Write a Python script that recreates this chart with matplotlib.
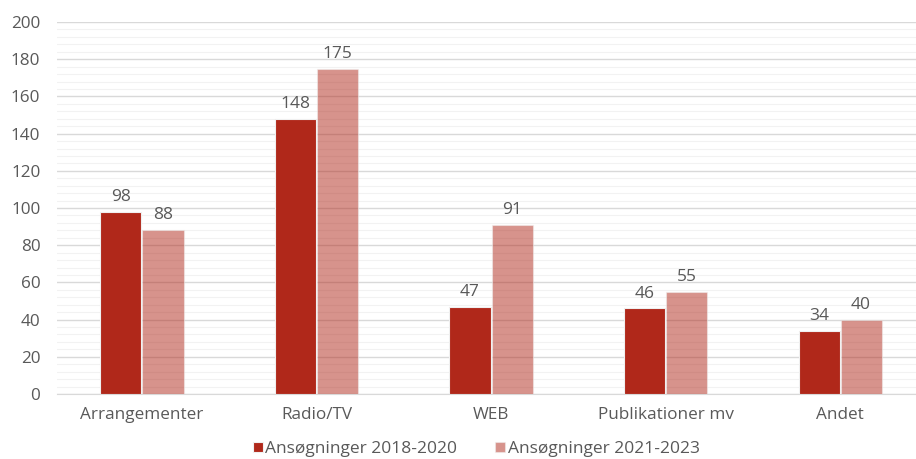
import numpy as np
import matplotlib
matplotlib.use("Agg")
import matplotlib.pyplot as plt
from matplotlib.ticker import MultipleLocator

categories = ["Arrangementer", "Radio/TV", "WEB", "Publikationer mv", "Andet"]
series_names = ["Ansøgninger 2018-2020", "Ansøgninger 2021-2023"]
values_2018 = [98, 148, 47, 46, 34]
values_2021 = [88, 175, 91, 55, 40]


def main() -> None:
    plt.rcParams["font.family"] = ["Open Sans", "DejaVu Sans"]
    text_color = "#595959"

    fig = plt.figure(figsize=(9.16, 4.59), dpi=100)
    ax = fig.add_axes([0.0622, 0.1416, 0.9378, 0.8104])

    x = np.arange(len(categories))
    w = 0.235
    dark = "#B0281A"
    b1 = ax.bar(x - w / 2 - 0.003, values_2018, w, color=dark,
                edgecolor="#F0F0F0", linewidth=0.8, zorder=3,
                label=series_names[0])
    b2 = ax.bar(x + w / 2 + 0.003, values_2021, w, color=dark, alpha=0.5,
                edgecolor="#F0F0F0", linewidth=0.8, zorder=3,
                label=series_names[1])

    for bars in (b1, b2):
        for rect in bars:
            h = rect.get_height()
            ax.annotate(f"{h:.0f}", (rect.get_x() + rect.get_width() / 2, h),
                        xytext=(0, 5), textcoords="offset points",
                        ha="center", va="bottom", fontsize=12.5,
                        color=text_color)

    ax.set_ylim(0, 200)
    ax.set_xlim(-0.487, 4.435)
    ax.yaxis.set_major_locator(MultipleLocator(20))
    ax.yaxis.set_minor_locator(MultipleLocator(4))
    ax.grid(axis="y", which="major", color="#D9D9D9", linewidth=1, zorder=0)
    ax.grid(axis="y", which="minor", color="#F2F2F2", linewidth=0.8, zorder=0)
    ax.set_axisbelow(True)

    for side in ("top", "right", "left"):
        ax.spines[side].set_visible(False)
    ax.spines["bottom"].set_color("#D9D9D9")

    ax.set_xticks(x)
    ax.set_xticklabels(categories)
    ax.tick_params(axis="both", which="both", length=0, labelsize=12.3,
                   colors=text_color)
    ax.tick_params(axis="x", pad=9)
    ax.tick_params(axis="y", pad=12)

    leg = fig.legend(loc="lower center", bbox_to_anchor=(0.52, -0.03), ncol=2,
                     frameon=False, fontsize=12.5, handlelength=0.55,
                     handleheight=0.55, handletextpad=0.15, columnspacing=2.2)
    for t in leg.get_texts():
        t.set_color(text_color)

    fig.savefig("out.png", dpi=100)


if __name__ == '__main__':
    main()
